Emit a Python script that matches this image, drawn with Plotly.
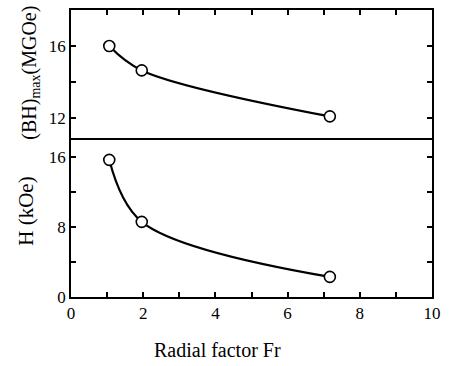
import plotly.graph_objects as go

fr = [1.06, 1.96, 7.17]
bh_max = [16.0, 14.65, 12.1]
h_koe = [15.7, 8.6, 2.3]

x_ticks = list(range(0, 11))
x_labels = [str(v) if v % 2 == 0 else "" for v in x_ticks]
bh_ticks = [12, 14, 16]
bh_labels = ["12", "", "16"]
h_ticks = [0, 4, 8, 12, 16]
h_labels = ["0", "", "8", "", "16"]

W, H = 451, 366
L, R, T, B = 71, 13, 10, 69
PW, PH = W - L - R, H - T - B


def px(x):
    return (x - L) / PW


def py(y):
    return (H - B - y) / PH


tick_font = dict(family="Liberation Serif", size=17, color="black")
title_font = dict(family="Liberation Serif", size=20, color="black")
line = dict(color="black", width=2.2, shape="spline", smoothing=1.0)
marker = dict(symbol="circle", size=11, color="white", line=dict(color="black", width=1.6))

fig = go.Figure()
fig.add_trace(go.Scatter(x=fr, y=h_koe, mode="lines", line=line, xaxis="x", yaxis="y", showlegend=False))
fig.add_trace(go.Scatter(x=fr, y=h_koe, mode="markers", marker=marker, xaxis="x", yaxis="y", showlegend=False))
fig.add_trace(go.Scatter(x=fr, y=bh_max, mode="lines", line=line, xaxis="x2", yaxis="y2", showlegend=False))
fig.add_trace(go.Scatter(x=fr, y=bh_max, mode="markers", marker=marker, xaxis="x2", yaxis="y2", showlegend=False))

split = (297 - 138) / PH

axis_common = dict(showline=True, linecolor="black", linewidth=1.8, ticks="inside",
                   ticklen=5, tickwidth=1.5, tickcolor="black", showgrid=False,
                   zeroline=False, tickfont=tick_font)

fig.update_layout(
    width=W, height=H,
    margin=dict(l=L, r=R, t=T, b=B),
    plot_bgcolor="white", paper_bgcolor="white",
    font=tick_font,
    xaxis=dict(**axis_common, range=[0, 10], tickvals=x_ticks, ticktext=x_labels,
               mirror=False, domain=[0, 1], anchor="y"),
    yaxis=dict(**axis_common, range=[0, 18.2], tickvals=h_ticks, ticktext=h_labels,
               mirror="ticks", domain=[0, split], anchor="x"),
    xaxis2=dict(**axis_common, range=[0, 10], tickvals=x_ticks, showticklabels=False,
                side="top", mirror=True, domain=[0, 1], anchor="y2"),
    yaxis2=dict(**axis_common, range=[10.9, 18.0], tickvals=bh_ticks, ticktext=bh_labels,
                mirror="ticks", domain=[split, 1], anchor="x2"),
    annotations=[
        dict(text="Radial factor Fr", xref="paper", yref="paper", x=px(220), y=py(350),
             showarrow=False, font=title_font, xanchor="center", yanchor="middle"),
        dict(text="H (kOe)", xref="paper", yref="paper", x=px(25), y=py(211),
             showarrow=False, font=dict(family="Liberation Serif", size=21, color="black"),
             textangle=-90, xanchor="center", yanchor="middle"),
        dict(text="(BH)<sub>max</sub>(MGOe)", xref="paper", yref="paper", x=px(29), y=py(73),
             showarrow=False, font=title_font, textangle=-90, xanchor="center", yanchor="middle"),
    ],
)

fig.write_html("out.html")
